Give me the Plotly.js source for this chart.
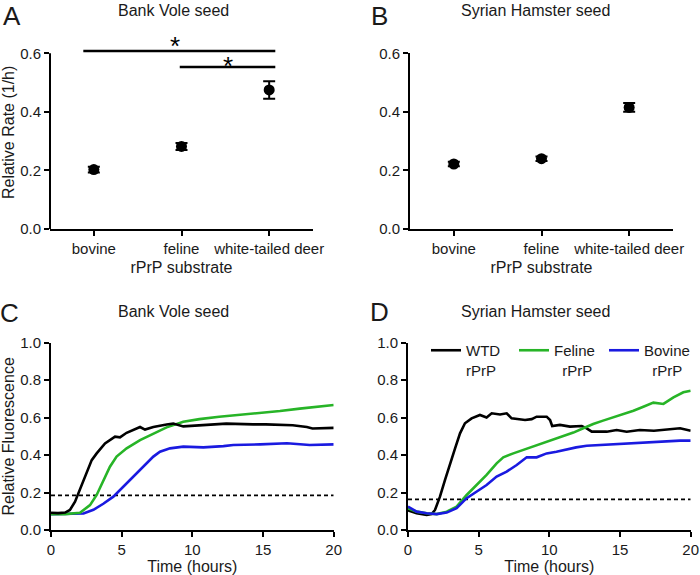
<!DOCTYPE html>
<html>
<head>
<meta charset="utf-8">
<script src="https://cdn.plot.ly/plotly-3.0.1.min.js"></script>
<style>html,body{margin:0;padding:0;background:#fff;}#chart{width:700px;height:575px;}</style>
</head>
<body>
<div id="chart"></div>
<script>
// ---- Panel A / B data (relative rate, 1/h) ----
var substrates = ['bovine', 'feline', 'white-tailed deer'];
var bvRate = [0.203, 0.282, 0.475];
var bvErr = [0.010, 0.012, 0.030];
var shRate = [0.222, 0.240, 0.415];
var shErr = [0.008, 0.008, 0.015];
// significance bars in panel A (category index span, height)
var sigX0 = [-0.12, 0.98];
var sigX1 = [2.07, 2.07];
var sigY = [0.608, 0.553];
var sigStarX = [0.93, 1.53];
var sigStarY = [0.645, 0.577];

// ---- Panel C: Bank Vole seed kinetics ----
var cWtdT = [0, 0.5, 1, 1.34, 1.7, 1.93, 2.4, 2.88, 3.23, 3.82, 4.53, 4.88, 5.35, 6.3, 6.65, 7.24, 8.18, 8.65, 9.36, 10.5, 12.4, 14.3, 15.2, 17.1, 18.1, 18.5, 19.5, 20];
var cWtdV = [0.092, 0.09, 0.093, 0.107, 0.151, 0.195, 0.284, 0.373, 0.409, 0.462, 0.498, 0.495, 0.519, 0.55, 0.536, 0.55, 0.563, 0.568, 0.553, 0.559, 0.568, 0.564, 0.564, 0.559, 0.55, 0.542, 0.542, 0.545];
var cFelT = [0, 1, 2.05, 2.76, 3.23, 3.7, 4.17, 4.64, 5.35, 6.3, 7.24, 8.18, 9.36, 10.5, 11.9, 13.37, 14.8, 16.2, 17.6, 19.03, 20];
var cFelV = [0.085, 0.085, 0.092, 0.133, 0.187, 0.267, 0.338, 0.392, 0.436, 0.48, 0.516, 0.548, 0.578, 0.592, 0.605, 0.614, 0.623, 0.635, 0.648, 0.658, 0.667];
var cBovT = [0, 1, 2.3, 3, 3.7, 4.41, 5.1, 5.82, 6.53, 7.24, 7.71, 8.42, 9.36, 10.78, 12.2, 12.9, 14.8, 16.7, 18.3, 20];
var cBovV = [0.085, 0.085, 0.088, 0.108, 0.14, 0.178, 0.231, 0.285, 0.338, 0.392, 0.418, 0.436, 0.445, 0.441, 0.448, 0.454, 0.457, 0.463, 0.454, 0.457];
var cThreshold = 0.185;

// ---- Panel D: Syrian Hamster seed kinetics ----
var dWtdT = [0, 0.61, 1.32, 1.67, 1.91, 2.26, 2.62, 2.97, 3.33, 3.68, 4.03, 4.5, 5.09, 5.56, 5.92, 6.51, 6.98, 7.33, 7.92, 8.28, 8.75, 9.1, 9.81, 10.05, 10.2, 10.75, 11.46, 12.29, 12.64, 13, 14.06, 14.76, 15.47, 16.4, 17.4, 18.3, 19.25, 20];
var dWtdV = [0.105, 0.089, 0.08, 0.085, 0.107, 0.178, 0.267, 0.356, 0.436, 0.516, 0.57, 0.596, 0.614, 0.601, 0.623, 0.617, 0.623, 0.596, 0.592, 0.587, 0.592, 0.605, 0.605, 0.587, 0.555, 0.561, 0.552, 0.555, 0.543, 0.525, 0.525, 0.534, 0.525, 0.534, 0.53, 0.537, 0.543, 0.53];
var dFelT = [0, 0.61, 1.32, 2.03, 2.74, 3.44, 4.15, 4.86, 5.56, 6.27, 6.74, 7.45, 8.16, 8.87, 9.57, 10.28, 11, 11.7, 12.4, 13.1, 13.8, 14.53, 15.24, 15.95, 16.65, 17.36, 18.07, 18.78, 19.48, 20];
var dFelV = [0.116, 0.098, 0.089, 0.085, 0.098, 0.125, 0.187, 0.24, 0.294, 0.356, 0.388, 0.409, 0.427, 0.445, 0.466, 0.484, 0.502, 0.52, 0.543, 0.566, 0.584, 0.601, 0.617, 0.637, 0.658, 0.68, 0.673, 0.708, 0.735, 0.744];
var dBovT = [0, 0.61, 1.32, 2.03, 2.74, 3.44, 4.15, 4.86, 5.56, 6.27, 6.98, 7.69, 8.4, 9.1, 9.81, 10.5, 11.2, 11.9, 12.64, 13.58, 14.53, 15.47, 16.4, 17.36, 18.3, 19.25, 20];
var dBovV = [0.125, 0.098, 0.089, 0.085, 0.093, 0.116, 0.17, 0.205, 0.24, 0.285, 0.312, 0.347, 0.388, 0.388, 0.409, 0.418, 0.431, 0.441, 0.45, 0.454, 0.459, 0.463, 0.466, 0.47, 0.472, 0.477, 0.477];
var dThreshold = 0.163;
var timeRange = [0, 20];

var seriesNames = ['WTD<br>rPrP', 'Feline<br>\u00a0\u00a0rPrP', 'Bovine<br>\u00a0\u00a0rPrP'];

var FONT = 'Liberation Sans, Arial, Helvetica, sans-serif';
var TXT = '#1a1a1a';
var GREEN = '#27b427';
var BLUE = '#1a1ae0';

function dotTrace(y, err, xa, ya) {
  return {
    type: 'scatter', mode: 'markers', x: substrates, y: y, xaxis: xa, yaxis: ya,
    marker: {color: '#000', size: 11},
    error_y: {type: 'data', array: err, visible: true, color: '#000', thickness: 2, width: 6},
    showlegend: false, hoverinfo: 'x+y'
  };
}
function curve(t, v, color, xa, ya, name, leg, legendId) {
  var tr = {
    type: 'scatter', mode: 'lines', x: t, y: v, xaxis: xa, yaxis: ya,
    line: {color: color, width: 2.6}, name: name, showlegend: leg
  };
  if (legendId) tr.legend = legendId;
  return tr;
}
function thresh(val, xa, ya) {
  return {
    type: 'scatter', mode: 'lines', x: timeRange, y: [val, val], xaxis: xa, yaxis: ya,
    line: {color: '#000', width: 1.8, dash: '4px,3px'}, showlegend: false, hoverinfo: 'skip'
  };
}

var data = [
  dotTrace(bvRate, bvErr, 'x', 'y'),
  dotTrace(shRate, shErr, 'x2', 'y2'),
  thresh(cThreshold, 'x3', 'y3'),
  curve(cBovT, cBovV, BLUE, 'x3', 'y3', seriesNames[2], false),
  curve(cFelT, cFelV, GREEN, 'x3', 'y3', seriesNames[1], false),
  curve(cWtdT, cWtdV, '#000', 'x3', 'y3', seriesNames[0], false),
  thresh(dThreshold, 'x4', 'y4'),
  curve(dWtdT, dWtdV, '#000', 'x4', 'y4', seriesNames[0], true, 'legend'),
  curve(dFelT, dFelV, GREEN, 'x4', 'y4', seriesNames[1], true, 'legend2'),
  curve(dBovT, dBovV, BLUE, 'x4', 'y4', seriesNames[2], true, 'legend3')
];

var W = 700, H = 575;
function px(x) { return x / W; }
function py(y) { return 1 - y / H; }

var baseAxis = {
  showgrid: false, zeroline: false, showline: true, linecolor: '#000', linewidth: 2,
  ticks: 'outside', ticklen: 5, tickwidth: 2, tickcolor: '#000',
  tickfont: {size: 15, color: TXT, family: FONT}, fixedrange: true
};
function ax(extra) { return Object.assign({}, JSON.parse(JSON.stringify(baseAxis)), extra); }

var catX = {type: 'category', range: [-0.5, 2.5], title: {text: 'rPrP substrate', font: {size: 16, color: TXT}, standoff: 6}};
var timeX = {range: [0, 20], dtick: 5, tick0: 0, title: {text: 'Time (hours)', font: {size: 16, color: TXT}, standoff: 4}};

function legendAt(x) {
  return {
    orientation: 'v', x: px(x), xanchor: 'left', y: py(334), yanchor: 'top',
    font: {size: 15, color: TXT}, valign: 'top', bgcolor: 'rgba(0,0,0,0)',
    itemclick: false, itemdoubleclick: false
  };
}

var layout = {
  width: W, height: H,
  margin: {l: 0, r: 0, t: 0, b: 0},
  paper_bgcolor: '#fff', plot_bgcolor: '#fff',
  font: {family: FONT, color: TXT, size: 15},
  showlegend: true,
  legend: legendAt(426),
  legend2: legendAt(514),
  legend3: legendAt(604),
  xaxis: ax(Object.assign({domain: [px(50), px(313)], anchor: 'y'}, catX)),
  yaxis: ax({domain: [py(229), py(229 - 0.66 * 292.8)], anchor: 'x', range: [0, 0.66], dtick: 0.2, tick0: 0,
    tickformat: '.1f', showline: false, tickvals: [0, 0.2, 0.4, 0.6],
    title: {text: 'Relative Rate (1/h)', font: {size: 16, color: TXT}, standoff: 4}}),
  xaxis2: ax(Object.assign({domain: [px(410), px(673)], anchor: 'y2'}, JSON.parse(JSON.stringify(catX)))),
  yaxis2: ax({domain: [py(229), py(53.3)], anchor: 'x2', range: [0, 0.6], dtick: 0.2, tick0: 0, tickformat: '.1f'}),
  xaxis3: ax(Object.assign({domain: [px(51), px(333.7)], anchor: 'y3'}, JSON.parse(JSON.stringify(timeX)))),
  yaxis3: ax({domain: [py(530), py(342.7)], anchor: 'x3', range: [0, 1], dtick: 0.2, tick0: 0, tickformat: '.1f',
    title: {text: 'Relative Fluorescence', font: {size: 16, color: TXT}, standoff: 4}}),
  xaxis4: ax(Object.assign({domain: [px(408), px(690.7)], anchor: 'y4'}, JSON.parse(JSON.stringify(timeX)))),
  yaxis4: ax({domain: [py(530), py(342.7)], anchor: 'x4', range: [0, 1], dtick: 0.2, tick0: 0, tickformat: '.1f'}),
  shapes: [
    // y axis line of panel A (range extended above 0.6 for significance marks)
    {type: 'line', xref: 'x domain', yref: 'y', x0: 0, x1: 0, y0: 0, y1: 0.6, line: {color: '#000', width: 2}}
  ],
  annotations: []
};

for (var i = 0; i < sigY.length; i++) {
  layout.shapes.push({type: 'line', xref: 'x', yref: 'y', x0: sigX0[i], x1: sigX1[i], y0: sigY[i], y1: sigY[i],
    line: {color: '#000', width: 2.5}});
  layout.annotations.push({xref: 'x', yref: 'y', x: sigStarX[i], y: sigStarY[i], text: '*', showarrow: false,
    font: {size: 26, color: '#000', family: FONT}, xanchor: 'center', yanchor: 'middle', yshift: -6});
}

var panelTitles = [
  {t: 'Bank Vole seed', x: 173, y: 10.5},
  {t: 'Syrian Hamster seed', x: 535, y: 10.5},
  {t: 'Bank Vole seed', x: 173, y: 311},
  {t: 'Syrian Hamster seed', x: 535, y: 311}
];
panelTitles.forEach(function (p) {
  layout.annotations.push({xref: 'paper', yref: 'paper', x: px(p.x), y: py(p.y), text: p.t, showarrow: false,
    xanchor: 'center', yanchor: 'middle', font: {size: 16, color: TXT}});
});
var letters = [
  {t: 'A', x: 11.5, top: 0}, {t: 'B', x: 379, top: 0},
  {t: 'C', x: 9, top: 297}, {t: 'D', x: 379.5, top: 296}
];
letters.forEach(function (p) {
  layout.annotations.push({xref: 'paper', yref: 'paper', x: px(p.x), y: py(p.top), text: p.t, showarrow: false,
    xanchor: 'center', yanchor: 'top', borderpad: 0, font: {size: 26, color: TXT}});
});

Plotly.newPlot('chart', data, layout, {displayModeBar: false});
</script>
</body>
</html>
